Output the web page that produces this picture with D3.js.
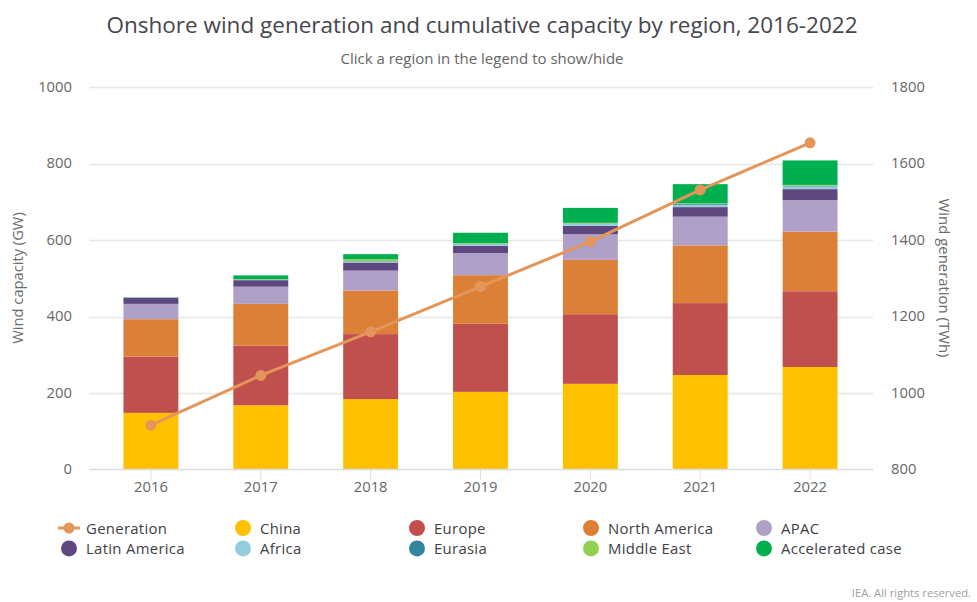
<!DOCTYPE html>
<html>
<head>
<meta charset="utf-8">
<script src="https://cdn.jsdelivr.net/npm/d3@7"></script>
<style>
  html, body { margin: 0; padding: 0; background: #fff; }
  text { font-family: "Open Sans", sans-serif; }
</style>
</head>
<body>
<svg id="chart" width="977" height="602"></svg>
<script>
// Values
var years = ["2016", "2017", "2018", "2019", "2020", "2021", "2022"];
var china = [148, 168, 184, 203, 224, 247, 268];
var europe = [147, 156, 170, 178, 182, 188, 198];
var northAmerica = [98, 109, 114, 127, 142, 151, 156];
var apac = [40, 45, 52, 58, 67, 75, 82];
var latinAmerica = [16, 17, 21, 19, 22, 25, 29];
var africa = [1, 1, 3, 4, 5, 6, 7];
var eurasia = [0.5, 0.5, 1, 1, 1, 2, 2];
var middleEast = [0.5, 1, 5, 2, 2, 2, 2];
var acceleratedCase = [0, 10, 13, 27, 39, 50, 64];
var generation = [916, 1046, 1160, 1278, 1396, 1531, 1654];
var capacityTicks = [0, 200, 400, 600, 800, 1000];
var generationTicks = [800, 1000, 1200, 1400, 1600, 1800];

var regionNames = ["China", "Europe", "North America", "APAC", "Latin America", "Africa", "Eurasia", "Middle East", "Accelerated case"];
var regionValues = [china, europe, northAmerica, apac, latinAmerica, africa, eurasia, middleEast, acceleratedCase];
var regionColors = ["#ffc000", "#bf504d", "#dc8037", "#afa0c8", "#5f4880", "#93cddd", "#31859c", "#92d050", "#00b050"];

var svg = d3.select("#chart");
var margin = { left: 89, right: 873, top: 87, bottom: 469.5 };

var x = d3.scaleBand().domain(years).range([96, 865]).paddingInner(0.5).paddingOuter(0.25);
var yLeft = d3.scaleLinear().domain([0, 1000]).range([margin.bottom, margin.top]);
var yRight = d3.scaleLinear().domain([800, 1800]).range([margin.bottom, margin.top]);

// Titles
svg.append("text").attr("x", 482).attr("y", 33).attr("text-anchor", "middle")
  .attr("font-size", 22.5).attr("fill", "#46464c")
  .text("Onshore wind generation and cumulative capacity by region, 2016-2022");
svg.append("text").attr("x", 482).attr("y", 64).attr("text-anchor", "middle")
  .attr("font-size", 15).attr("fill", "#666666")
  .text("Click a region in the legend to show/hide");

// Gridlines
svg.append("g").selectAll("line").data(capacityTicks.slice(1)).join("line")
  .attr("x1", margin.left).attr("x2", margin.right)
  .attr("y1", d => Math.round(yLeft(d)) + 0.5).attr("y2", d => Math.round(yLeft(d)) + 0.5)
  .attr("stroke", "#e6e6e6").attr("stroke-width", 1.5);

// Stacked bars
var rows = years.map((year, i) => {
  var row = { year: year };
  regionNames.forEach((name, j) => { row[name] = regionValues[j][i]; });
  return row;
});
var stacked = d3.stack().keys(regionNames)(rows);
svg.append("g").selectAll("g").data(stacked).join("g")
  .attr("fill", (d, i) => regionColors[i])
  .selectAll("rect").data(d => d).join("rect")
  .attr("x", d => x(d.data.year))
  .attr("width", x.bandwidth())
  .attr("y", d => yLeft(d[1]))
  .attr("height", d => yLeft(d[0]) - yLeft(d[1]));

// Bottom axis
var xAxis = svg.append("g").attr("transform", "translate(0," + margin.bottom + ")");
xAxis.append("line").attr("x1", margin.left).attr("x2", margin.right).attr("stroke", "#d8dce3").attr("stroke-width", 1.5);
xAxis.selectAll("line.tick").data(years).join("line").attr("class", "tick")
  .attr("x1", d => x(d) + x.bandwidth() / 2).attr("x2", d => x(d) + x.bandwidth() / 2)
  .attr("y1", 0).attr("y2", 10).attr("stroke", "#d8dce3");
xAxis.selectAll("text").data(years).join("text")
  .attr("x", d => x(d) + x.bandwidth() / 2).attr("y", 22.5).attr("text-anchor", "middle")
  .attr("font-size", 14.8).attr("fill", "#666666").text(d => d);

// Value axes
svg.append("g").selectAll("text").data(capacityTicks).join("text")
  .attr("x", 72).attr("y", d => yLeft(d) + 4.5).attr("text-anchor", "end")
  .attr("font-size", 14.8).attr("fill", "#666666").text(d => d);
svg.append("g").selectAll("text").data(generationTicks).join("text")
  .attr("x", 891).attr("y", d => yRight(d) + 4.5).attr("text-anchor", "start")
  .attr("font-size", 14.8).attr("fill", "#666666").text(d => d);
svg.append("text").attr("transform", "translate(23,278) rotate(-90)").attr("text-anchor", "middle")
  .attr("font-size", 14.7).attr("fill", "#6b6b6b").text("Wind capacity (GW)");
svg.append("text").attr("transform", "translate(939,278) rotate(90)").attr("text-anchor", "middle")
  .attr("font-size", 14.9).attr("fill", "#6b6b6b").text("Wind generation (TWh)");

// Generation line
var lineColor = "#e4965a";
var line = d3.line().x((d, i) => x(years[i]) + x.bandwidth() / 2).y(d => yRight(d));
svg.append("path").attr("d", line(generation)).attr("fill", "none")
  .attr("stroke", lineColor).attr("stroke-width", 3);
svg.append("g").selectAll("circle").data(generation).join("circle")
  .attr("cx", (d, i) => x(years[i]) + x.bandwidth() / 2).attr("cy", d => yRight(d))
  .attr("r", 5.5).attr("fill", lineColor);

// Legend
var legendNames = ["Generation"].concat(regionNames);
var legendColors = [lineColor].concat(regionColors);
var legendX = [69, 243, 417, 591, 764];
var legendY = [528, 548.4];
var legend = svg.append("g").selectAll("g").data(legendNames).join("g")
  .attr("transform", (d, i) => "translate(" + legendX[i % 5] + "," + legendY[Math.floor(i / 5)] + ")");
legend.append("circle").attr("r", 8).attr("fill", (d, i) => legendColors[i]);
legend.filter(d => d === "Generation").select("circle").attr("r", 5.5);
legend.filter(d => d === "Generation").append("line")
  .attr("x1", -11).attr("x2", 11).attr("stroke", lineColor).attr("stroke-width", 3);
legend.append("text").attr("x", 17).attr("y", 5.5)
  .attr("font-size", 14.9).attr("letter-spacing", "0.3px").attr("fill", "#3e3e45").text(d => d);

// Credit
svg.append("text").attr("x", 971).attr("y", 597).attr("text-anchor", "end")
  .attr("font-size", 11.2).attr("fill", "#a0a0a0").text("IEA. All rights reserved.");
</script>
</body>
</html>
